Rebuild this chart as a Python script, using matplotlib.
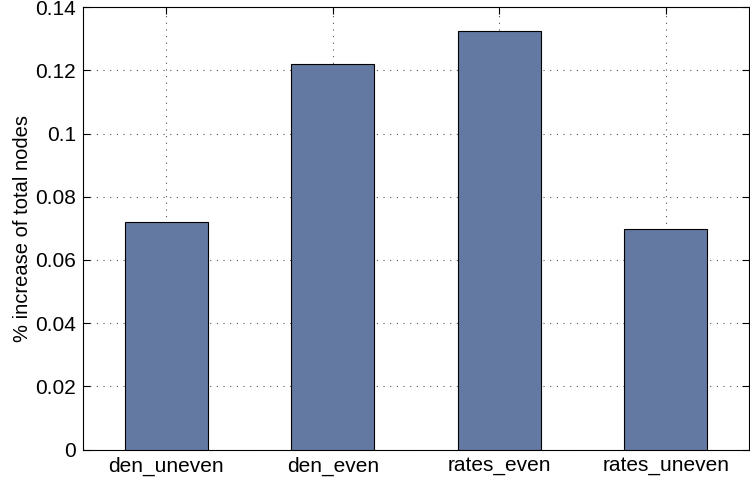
import matplotlib
matplotlib.use("Agg")
import matplotlib.pyplot as plt

categories = ["den_uneven", "den_even", "rates_even", "rates_uneven"]
increase = [0.0720, 0.1220, 0.1325, 0.0698]
yticks = [0, 0.02, 0.04, 0.06, 0.08, 0.1, 0.12, 0.14]
ytick_labels = ["0", "0.02", "0.04", "0.06", "0.08", "0.1", "0.12", "0.14"]

plt.rcParams["font.family"] = ["Liberation Sans", "DejaVu Sans"]

fig = plt.figure(figsize=(7.5, 4.8), dpi=100)
ax = fig.add_axes([0.1107, 0.0635, 0.888, 0.9213])

x = range(1, len(categories) + 1)
ax.bar(x, increase, width=0.5, color="#6479a1", edgecolor="black", linewidth=0.8, zorder=3)

ax.set_xlim(0.5, 4.5)
ax.set_ylim(0, 0.14)
ax.set_xticks(list(x))
ax.set_xticklabels(categories, fontsize=15)
ax.set_yticks(yticks)
ax.set_yticklabels(ytick_labels, fontsize=15)
ax.set_ylabel("% increase of total nodes", fontsize=14.5, labelpad=2)

ax.tick_params(direction="in", length=5, top=True, right=True, width=0.8, pad=5)
ax.grid(True, linestyle=(0, (1, 5)), color="#555555", linewidth=0.8, zorder=0)
for s in ax.spines.values():
    s.set_linewidth(0.8)

fig.savefig("out.png", dpi=100)
